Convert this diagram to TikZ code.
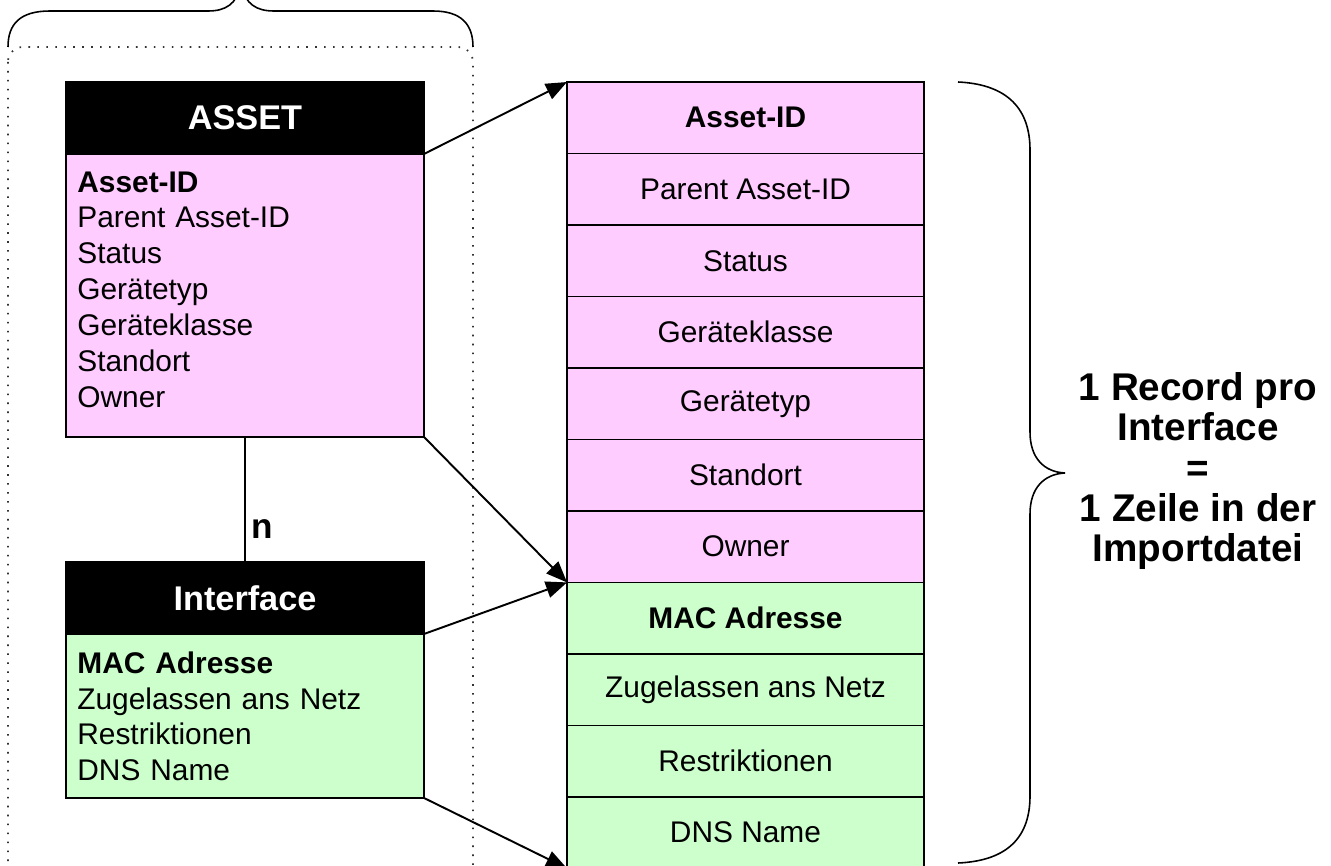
\documentclass[tikz,border=0pt]{standalone}
\usepackage{fontspec}
\setmainfont{Liberation Sans}
\usetikzlibrary{arrows.meta, chains, positioning}
\definecolor{recpink}{HTML}{FFCCFF}
\definecolor{recgreen}{HTML}{CCFFCC}
\tikzset{
  head/.style={
    rectangle,
    minimum width=7.16cm,
    minimum height=1.44cm,
    outer sep=0pt,
    align=center,
    draw=black,
    line width=1pt,
    fill=black,
    text=white,
    font=\fontsize{19.5}{23}\selectfont\bfseries
  },
  attrs/.style={
    rectangle,
    minimum width=7.16cm,
    outer sep=0pt,
    draw=black,
    line width=1pt
  },
  attrlist/.style={
    text width=6.72cm,
    inner xsep=0.22cm,
    inner ysep=9.8pt,
    align=left,
    font=\fontsize{17}{20.4}\selectfont
  },
  cell/.style={
    rectangle,
    minimum width=7.14cm,
    minimum height=1.43cm,
    outer sep=0pt,
    align=center,
    draw=black,
    line width=1pt,
    font=\fontsize{17}{20.4}\selectfont
  },
  assetcell/.style={cell, fill=recpink},
  ifcell/.style={cell, fill=recgreen},
  arrow/.style={line width=1.1pt, -{Triangle[length=12pt,width=9.5pt]}},
  group/.style={
    black!80,
    line width=1pt,
    dash pattern=on 0.9pt off 4.2pt,
    rounded corners=0.3cm
  },
  brace/.style={line width=0.9pt}
}

\begin{document}
\begin{tikzpicture}[
      x=0.02cm, y=-0.02cm,
      start chain=going below,
      node distance=0pt
      ]
      \useasboundingbox (0,0) rectangle (1331,865);
      \clip (0,0) rectangle (1331,865);
      % left: entities
      \node (assethead) [head, anchor=north] at (245,82) {ASSET};
      \node (assetbody) [attrs, fill=recpink, minimum height=5.66cm, below=0pt of assethead] {};
      \node (assetlist) [attrlist, anchor=north west] at (assetbody.north west)
        {\textbf{Asset-ID}\\Parent Asset-ID\\Status\\Gerätetyp\\Geräteklasse\\Standort\\Owner};
      \node (ifhead) [head, anchor=north] at (245,562) {Interface};
      \node (ifbody) [attrs, fill=recgreen, minimum height=3.28cm, below=0pt of ifhead] {};
      \node (iflist) [attrlist, anchor=north west] at (ifbody.north west)
        {\textbf{MAC Adresse}\\Zugelassen ans Netz\\Restriktionen\\DNS Name};
      \draw [line width=1.1pt] (assetbody.south) -- node [pos=0.74, right, font=\fontsize{20}{22}\selectfont\bfseries] {n} (ifhead.north);
      \draw [group] (8,47) rectangle (473,905);
      \draw [brace] (8,47) .. controls (8,24) and (20,11) .. (50,11) -- (208,11)
        .. controls (226,11) and (236,4) .. (241,-14)
        .. controls (246,4) and (256,11) .. (274,11) -- (433,11)
        .. controls (461,11) and (473,24) .. (473,47);
      % right: record
      \node (r1) [assetcell, on chain] at (745.5,117.75) {\textbf{Asset-ID}};
      \node (r2) [assetcell, on chain] {Parent Asset-ID};
      \node (r3) [assetcell, on chain] {Status};
      \node (r4) [assetcell, on chain] {Geräteklasse};
      \node (r5) [assetcell, on chain] {Gerätetyp};
      \node (r6) [assetcell, on chain] {Standort};
      \node (r7) [assetcell, on chain] {Owner};
      \node (r8) [ifcell, on chain] {\textbf{MAC Adresse}};
      \node (r9) [ifcell, on chain] {Zugelassen ans Netz};
      \node (r10) [ifcell, on chain] {Restriktionen};
      \node (r11) [ifcell, on chain] {DNS Name};
      \draw [arrow] (assethead.south east) -- (r1.north west);
      \draw [arrow] (assetbody.south east) -- (r7.south west);
      \draw [arrow] (ifhead.south east) -- (r7.south west);
      \draw [arrow] (ifbody.south east) -- (r11.south west);
      \draw [brace] (958,82) .. controls (1002,84) and (1030,104) .. (1030,150) -- (1030,432)
        .. controls (1030,458) and (1044,472) .. (1065,473)
        .. controls (1044,474) and (1030,488) .. (1030,514) -- (1030,796)
        .. controls (1030,842) and (1002,861) .. (958,863);
      \node (note) [align=center, font=\fontsize{22}{23}\selectfont\bfseries] at (1198,471)
        {1 Record pro\\Interface\\=\\1 Zeile in der\\Importdatei};
\end{tikzpicture}
\end{document}
